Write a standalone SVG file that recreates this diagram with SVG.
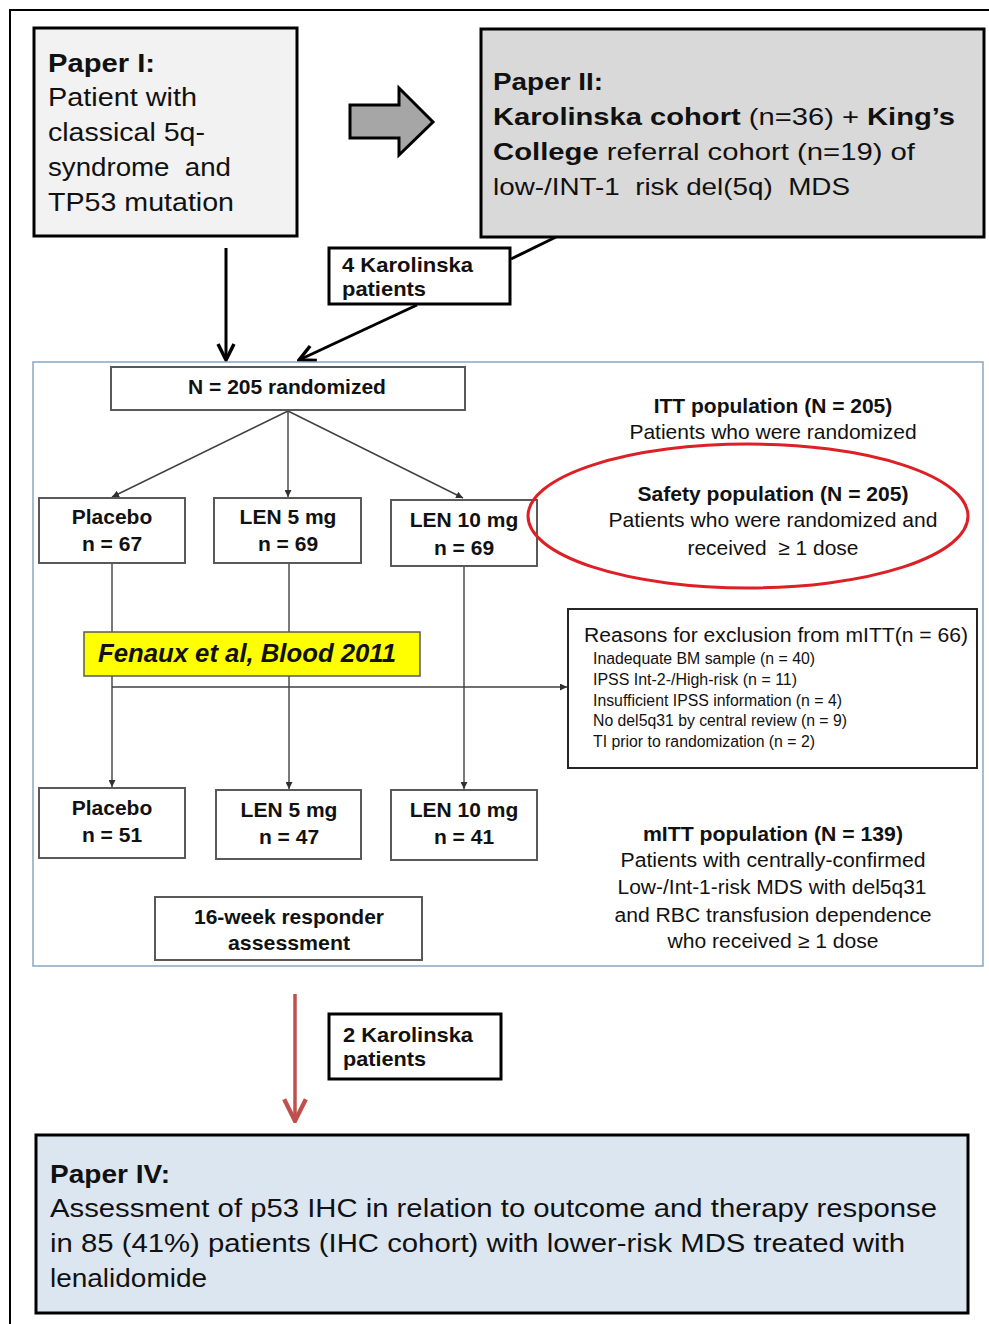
<svg xmlns="http://www.w3.org/2000/svg" width="989" height="1324" viewBox="0 0 989 1324">
<style>
text{font-family:"Liberation Sans",Arial,sans-serif;fill:#111}
.b{font-weight:bold}
.big{font-size:26px}
.p2{font-size:24px}
.m{font-size:21px}
.s{font-size:16px}
.t20{font-size:20px}
.c{text-anchor:middle}
.heavy{stroke:#000;stroke-width:3}
.box{fill:#fff;stroke:#595959;stroke-width:2}
.conn{stroke:#404040;stroke-width:1.4;fill:none}
</style>
<defs>
<marker id="sm" viewBox="0 0 10 10" refX="10" refY="5" markerWidth="7" markerHeight="7" markerUnits="userSpaceOnUse" orient="auto">
<path d="M0,0 L10,5 L0,10 z" fill="#303030"/>
</marker>
<marker id="open" viewBox="0 0 20 20" refX="18" refY="10" markerWidth="20" markerHeight="20" markerUnits="userSpaceOnUse" orient="auto">
<path d="M2,2 L18,10 L2,18" fill="none" stroke="#000" stroke-width="3.5" stroke-linejoin="miter"/>
</marker>
<marker id="red" viewBox="0 0 24 24" refX="22" refY="12" markerWidth="26" markerHeight="26" markerUnits="userSpaceOnUse" orient="auto">
<path d="M2,2 L22,12 L2,22" fill="none" stroke="#c0504d" stroke-width="4"/>
</marker>
</defs>

<path d="M10,1324 L10,10 L989,10" fill="none" stroke="#000" stroke-width="2"/>

<g id="connectors">
<line x1="226" y1="248" x2="226" y2="360" stroke="#000" stroke-width="3" marker-end="url(#open)"/>
<line x1="511" y1="259" x2="556" y2="237" stroke="#000" stroke-width="3"/>
<line x1="417" y1="305" x2="299" y2="360" stroke="#000" stroke-width="3" marker-end="url(#open)"/>
<line x1="288" y1="411" x2="112" y2="497" class="conn" marker-end="url(#sm)"/>
<line x1="288" y1="411" x2="288" y2="497" class="conn" marker-end="url(#sm)"/>
<line x1="288" y1="411" x2="463" y2="498" class="conn" marker-end="url(#sm)"/>
<line x1="112" y1="563" x2="112" y2="787" class="conn" marker-end="url(#sm)"/>
<line x1="289" y1="563" x2="289" y2="789" class="conn" marker-end="url(#sm)"/>
<line x1="464" y1="566" x2="464" y2="789" class="conn" marker-end="url(#sm)"/>
<line x1="112" y1="687" x2="567" y2="687" class="conn" marker-end="url(#sm)"/>
<line x1="295" y1="994" x2="295" y2="1121" stroke="#c0504d" stroke-width="3.5" marker-end="url(#red)"/>
</g>

<g id="paper1">
<rect x="34" y="28" width="263" height="208" fill="#f2f2f2" class="heavy"/>
<text x="48" y="72" class="big b" textLength="107" lengthAdjust="spacingAndGlyphs">Paper I:</text>
<text x="48" y="106" class="big" textLength="149" lengthAdjust="spacingAndGlyphs">Patient with</text>
<text x="48" y="141" class="big" textLength="157" lengthAdjust="spacingAndGlyphs">classical 5q-</text>
<text x="48" y="176" class="big" textLength="183" lengthAdjust="spacingAndGlyphs" xml:space="preserve">syndrome  and</text>
<text x="48" y="211" class="big" textLength="186" lengthAdjust="spacingAndGlyphs">TP53 mutation</text>
</g>

<g id="block-arrow">
<path d="M350,105 L399,105 L399,88 L433,122 L399,155 L399,138 L350,138 Z" fill="#a6a6a6" stroke="#000" stroke-width="3" stroke-linejoin="miter"/>
</g>

<g id="paper2">
<rect x="481" y="29" width="503" height="208" fill="#d9d9d9" class="heavy"/>
<text x="493" y="90" class="p2 b" textLength="110" lengthAdjust="spacingAndGlyphs">Paper II:</text>
<text x="493" y="125" class="p2" textLength="462" lengthAdjust="spacingAndGlyphs"><tspan class="b">Karolinska  cohort</tspan> (n=36) + <tspan class="b">King’s</tspan></text>
<text x="493" y="160" class="p2" textLength="422" lengthAdjust="spacingAndGlyphs"><tspan class="b">College</tspan>  referral cohort (n=19) of</text>
<text x="493" y="195" class="p2" textLength="357" lengthAdjust="spacingAndGlyphs" xml:space="preserve">low-/INT-1  risk del(5q)  MDS</text>
</g>

<g id="karolinska4">
<rect x="329" y="248" width="181" height="56" fill="#fff" class="heavy"/>
<text x="342" y="272" class="m b" textLength="131" lengthAdjust="spacingAndGlyphs">4 Karolinska</text>
<text x="342" y="296" class="m b" textLength="84" lengthAdjust="spacingAndGlyphs">patients</text>
</g>

<g id="trial-frame">
<rect x="33" y="362" width="950" height="604" fill="none" stroke="#8aa6c4" stroke-width="1.5"/>
</g>

<g id="randomized">
<rect x="111" y="367" width="354" height="43" class="box"/>
<text x="287" y="394" class="m b c">N = 205 randomized</text>
</g>

<g id="placebo1">
<rect x="39" y="498" width="146" height="65" class="box"/>
<text x="112" y="524" class="m b c">Placebo</text>
<text x="112" y="551" class="m b c">n = 67</text>
</g>
<g id="len5-1">
<rect x="214" y="498" width="147" height="65" class="box"/>
<text x="288" y="524" class="m b c">LEN 5 mg</text>
<text x="288" y="551" class="m b c">n = 69</text>
</g>
<g id="len10-1">
<rect x="391" y="500" width="146" height="66" class="box"/>
<text x="464" y="527" class="m b c">LEN 10 mg</text>
<text x="464" y="555" class="m b c">n = 69</text>
</g>

<g id="itt">
<text x="773" y="413" class="m b c">ITT population (N = 205)</text>
<text x="773" y="439" class="m c">Patients who were randomized</text>
</g>

<g id="safety">
<ellipse cx="748" cy="516" rx="220" ry="72" fill="none" stroke="#dd1f26" stroke-width="3"/>
<text x="773" y="501" class="m b c" textLength="271" lengthAdjust="spacingAndGlyphs">Safety population (N = 205)</text>
<text x="773" y="527" class="m c" textLength="329" lengthAdjust="spacingAndGlyphs">Patients who were randomized and</text>
<text x="773" y="555" class="m c" textLength="171" lengthAdjust="spacingAndGlyphs" xml:space="preserve">received  ≥ 1 dose</text>
</g>

<g id="fenaux">
<rect x="84" y="632" width="336" height="44" fill="#ffff00" stroke="#595959" stroke-width="1.5"/>
<text x="98" y="662" class="b" font-style="italic" font-size="25" textLength="298" lengthAdjust="spacingAndGlyphs">Fenaux et al, Blood 2011</text>
</g>

<g id="exclusion">
<rect x="568" y="609" width="409" height="159" fill="#fff" stroke="#262626" stroke-width="2"/>
<text x="584" y="642" class="t20" textLength="384" lengthAdjust="spacingAndGlyphs">Reasons for exclusion from mITT(n = 66)</text>
<text x="593" y="664" class="s" textLength="222" lengthAdjust="spacingAndGlyphs">Inadequate BM sample (n = 40)</text>
<text x="593" y="685" class="s" textLength="204" lengthAdjust="spacingAndGlyphs">IPSS Int-2-/High-risk (n = 11)</text>
<text x="593" y="706" class="s" textLength="249" lengthAdjust="spacingAndGlyphs">Insufficient IPSS information (n = 4)</text>
<text x="593" y="726" class="s" textLength="254" lengthAdjust="spacingAndGlyphs">No del5q31 by central review (n = 9)</text>
<text x="593" y="747" class="s" textLength="222" lengthAdjust="spacingAndGlyphs">TI prior to randomization (n = 2)</text>
</g>

<g id="placebo2">
<rect x="39" y="788" width="146" height="70" class="box"/>
<text x="112" y="815" class="m b c">Placebo</text>
<text x="112" y="842" class="m b c">n = 51</text>
</g>
<g id="len5-2">
<rect x="216" y="790" width="145" height="69" class="box"/>
<text x="289" y="817" class="m b c">LEN 5 mg</text>
<text x="289" y="844" class="m b c">n = 47</text>
</g>
<g id="len10-2">
<rect x="391" y="790" width="146" height="70" class="box"/>
<text x="464" y="817" class="m b c">LEN 10 mg</text>
<text x="464" y="844" class="m b c">n = 41</text>
</g>

<g id="mitt">
<text x="773" y="841" class="t20 b c" textLength="260" lengthAdjust="spacingAndGlyphs">mITT population (N = 139)</text>
<text x="773" y="867" class="t20 c" textLength="305" lengthAdjust="spacingAndGlyphs">Patients with centrally-confirmed</text>
<text x="772" y="894" class="t20 c" textLength="309" lengthAdjust="spacingAndGlyphs">Low-/Int-1-risk MDS with del5q31</text>
<text x="773" y="922" class="t20 c" textLength="317" lengthAdjust="spacingAndGlyphs">and RBC transfusion dependence</text>
<text x="773" y="948" class="t20 c" textLength="211" lengthAdjust="spacingAndGlyphs">who received ≥ 1 dose</text>
</g>

<g id="responder">
<rect x="155" y="897" width="267" height="63" class="box"/>
<text x="289" y="924" class="m b c" textLength="190" lengthAdjust="spacingAndGlyphs">16-week responder</text>
<text x="289" y="950" class="m b c" textLength="122" lengthAdjust="spacingAndGlyphs">assessment</text>
</g>

<g id="karolinska2">
<rect x="329" y="1014" width="172" height="65" fill="#fff" class="heavy"/>
<text x="343" y="1042" class="m b" textLength="130" lengthAdjust="spacingAndGlyphs">2 Karolinska</text>
<text x="343" y="1066" class="m b" textLength="83" lengthAdjust="spacingAndGlyphs">patients</text>
</g>

<g id="paper4">
<rect x="36" y="1135" width="932" height="178" fill="#dce6f1" class="heavy"/>
<text x="50" y="1183" class="b" font-size="25" textLength="120" lengthAdjust="spacingAndGlyphs">Paper IV:</text>
<text x="50" y="1217" font-size="25" textLength="887" lengthAdjust="spacingAndGlyphs">Assessment  of p53 IHC  in relation to outcome  and  therapy response</text>
<text x="50" y="1252" font-size="25" textLength="855" lengthAdjust="spacingAndGlyphs">in 85 (41%) patients (IHC  cohort) with lower-risk MDS treated with</text>
<text x="50" y="1287" font-size="25" textLength="157" lengthAdjust="spacingAndGlyphs">lenalidomide</text>
</g>
</svg>
